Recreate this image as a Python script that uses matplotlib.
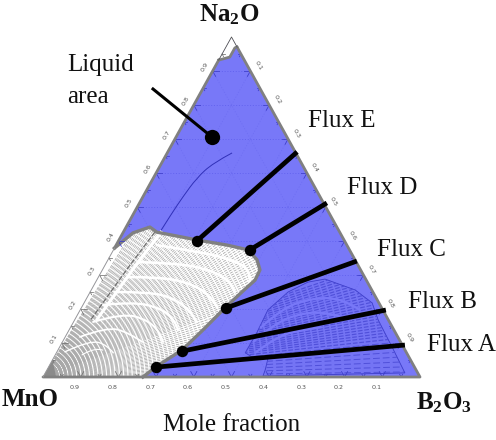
import matplotlib
matplotlib.use("Agg")
import matplotlib.pyplot as plt
import numpy as np
from matplotlib.patches import PathPatch, Polygon
from matplotlib.path import Path

plt.rcParams["font.family"] = ["Liberation Serif", "DejaVu Serif"]
plt.rcParams["mathtext.fontset"] = "custom"
plt.rcParams["mathtext.rm"] = "Liberation Serif"
plt.rcParams["mathtext.bf"] = "Liberation Serif:bold"

# all compositions are (B2O3, Na2O) mole fractions
tick_values = [0.1, 0.2, 0.3, 0.4, 0.5, 0.6, 0.7, 0.8, 0.9]
minor_values = [0.05, 0.15, 0.25, 0.35, 0.45, 0.55, 0.65, 0.75, 0.85, 0.95]

solid_region = [(0.0, 0.379), (0.027, 0.424), (0.063, 0.441), (0.089, 0.426),
                (0.207, 0.403), (0.294, 0.388), (0.357, 0.374), (0.395, 0.345),
                (0.418, 0.315), (0.420, 0.285), (0.405, 0.255), (0.382, 0.206),
                (0.355, 0.138), (0.329, 0.079), (0.286, 0.032), (0.265, 0.0)]
apex_region = [(0.0, 0.932), (0.025, 0.941), (0.025, 0.968), (0.029, 0.971)]
lobe_region = [(0.582, 0.003), (0.579, 0.021), (0.569, 0.056), (0.525, 0.059),
               (0.501, 0.071), (0.502, 0.132), (0.498, 0.197), (0.525, 0.25),
               (0.563, 0.279), (0.604, 0.288), (0.700, 0.256), (0.764, 0.218),
               (0.805, 0.168), (0.882, 0.088), (0.954, 0.012)]
thin_curve = [(0.172, 0.659), (0.136, 0.629), (0.115, 0.585), (0.106, 0.529),
              (0.101, 0.482), (0.097, 0.426)]

white_arcs = [
    [(0.108, 0.388), (0.232, 0.368), (0.332, 0.344), (0.392, 0.315), (0.409, 0.279)],
    [(0.083, 0.338), (0.187, 0.335), (0.286, 0.315), (0.361, 0.279), (0.384, 0.25)],
    [(0.076, 0.294), (0.163, 0.294), (0.252, 0.276), (0.322, 0.241), (0.359, 0.206)],
    [(0.066, 0.25), (0.159, 0.25), (0.229, 0.232), (0.291, 0.197), (0.327, 0.162)],
    [(0.053, 0.212), (0.129, 0.221), (0.209, 0.203), (0.266, 0.168), (0.289, 0.138)],
    [(0.052, 0.162), (0.118, 0.188), (0.192, 0.168), (0.244, 0.132), (0.267, 0.103)],
    [(0.039, 0.118), (0.096, 0.147), (0.159, 0.132), (0.212, 0.103)],
    [(0.021, 0.074), (0.071, 0.109), (0.123, 0.094), (0.151, 0.071)],
    [(0.071, 0.065), (0.094, 0.088), (0.119, 0.079)],
]
arc_widths = [1.9, 1.9, 1.9, 1.8, 1.7, 1.5, 1.3, 1.0, 0.8]
ridge_line = [(0.089, 0.426), (0.070, 0.32), (0.048, 0.17)]
lobe_arcs = [
    [(0.504, 0.144), (0.533, 0.203), (0.598, 0.232), (0.677, 0.232), (0.742, 0.197)],
    [(0.506, 0.103), (0.536, 0.159), (0.593, 0.188), (0.660, 0.191), (0.736, 0.168)],
    [(0.527, 0.071), (0.558, 0.115), (0.607, 0.138), (0.666, 0.147)],
]

solid_ray_angles = [0.8, 1.6, 2.4, 3.2, 4.0, 4.8, 5.6, 6.4, 7.2, 8.0, 8.8, 9.6, 10.4,
                    11.2, 12.0, 12.8, 13.6, 14.4, 15.2, 16.0, 16.8, 17.6, 18.4, 19.2,
                    20.0, 20.6, 21.2, 21.8, 22.4, 23.0, 23.6, 24.2, 24.8, 25.4, 26.0,
                    26.6, 27.2, 27.8, 28.4, 29.0, 29.6, 30.2, 30.8, 31.4, 32.0, 32.6,
                    33.2, 33.8, 34.4, 35.0, 35.6, 36.2, 36.8, 37.4, 38.0, 38.6, 39.2,
                    39.8, 40.4, 41.0, 41.6, 42.2, 42.8, 43.4, 44.0, 44.6, 45.2, 45.8,
                    46.4, 47.0, 47.6, 48.2, 48.8, 49.4, 50.0, 50.6, 51.2, 51.8, 52.4,
                    53.0, 53.6, 54.2, 54.8, 55.4, 56.0, 56.6, 57.2, 57.8, 58.4]
# tie lines of the lobe also run back to the MnO corner
lobe_ray_angles = [0.8, 1.6, 2.4, 3.2, 4.0, 4.8, 5.6, 6.2, 6.8, 7.3, 7.8, 8.3, 8.8, 9.3,
                   9.8, 10.3, 10.8, 11.3, 11.8, 12.3, 12.8, 13.3, 13.8, 14.3, 14.8,
                   15.3, 15.8, 16.3, 16.8, 17.3, 17.8, 18.3, 18.8]

flux_names = ["Flux A", "Flux B", "Flux C", "Flux D", "Flux E"]
flux_start = [(0.285, 0.029), (0.331, 0.076), (0.384, 0.203), (0.362, 0.374), (0.208, 0.40)]
flux_end = [(0.913, 0.094), (0.811, 0.197), (0.662, 0.341), (0.497, 0.512), (0.343, 0.662)]
flux_label_x = [427, 408, 377, 347, 308]
flux_label_y = [345, 302, 250, 188, 121]

liquid_point = (0.095, 0.706)

LEFT, RIGHT, BASE, TOP = 43.0, 420.0, 377.0, 37.0
BLUE = "#7878f8"
DARK = "#3c3cc8"
GRAY = "#808080"


def tern(b, n):
    b, n = np.asarray(b, float), np.asarray(n, float)
    return LEFT + (RIGHT - LEFT) * (b + n / 2), BASE - (BASE - TOP) * n


def pts(seq):
    b, n = zip(*seq)
    x, y = tern(b, n)
    return np.column_stack([x, y])


def smooth(seq):
    # quadratic spline through the midpoints, arcs look angular otherwise
    p = pts(seq)
    verts = [p[0]]
    codes = [Path.MOVETO]
    for i in range(1, len(p) - 1):
        end = p[i + 1] if i == len(p) - 2 else (p[i] + p[i + 1]) / 2
        verts += [p[i], end]
        codes += [Path.CURVE3, Path.CURVE3]
    return Path(verts, codes)


fig = plt.figure(figsize=(4.96, 4.40), dpi=100)
ax = fig.add_axes([0, 0, 1, 1])
ax.set_xlim(0, 496)
ax.set_ylim(440, 0)
ax.axis("off")

triangle = pts([(0, 0), (1, 0), (0, 1)])
ax.add_patch(Polygon(triangle, closed=True, fc=BLUE, ec="none", zorder=1))

# grid, three directions
for v in tick_values:
    for a, c in [((0, v), (1 - v, v)), ((v, 0), (v, 1 - v)), ((v, 0), (0, v))]:
        x, y = tern([a[0], c[0]], [a[1], c[1]])
        col = "#5c5cec" if a[1] == c[1] else "#6c6cf2"
        ax.plot(x, y, color=col, lw=0.5, ls=(0, (1.5, 2.5)), zorder=2)

# liquid-free lobe near B2O3
lobe_poly = Polygon(pts(lobe_region), closed=True, fc="#7474f4", ec=DARK, lw=0.6, zorder=3)
ax.add_patch(lobe_poly)
for ang in lobe_ray_angles:
    t = np.radians(ang)
    dash = (0, (4, 1.5)) if ang > 6 else (0, (7, 3))
    wid = 0.85 if ang > 6 else 0.7
    ln, = ax.plot([LEFT, LEFT + 400 * np.cos(t)], [BASE, BASE - 400 * np.sin(t)],
                  color="#5050da", lw=wid, ls=dash, zorder=3.1)
    ln.set_clip_path(lobe_poly)
for arc in lobe_arcs:
    pa = PathPatch(smooth(arc), fc="none", ec=BLUE, lw=1.6, zorder=3.2)
    ax.add_patch(pa)
    pa.set_clip_path(lobe_poly)

# solid region near MnO
outline = pts(solid_region)
solid_poly = Polygon(np.vstack([outline, [[LEFT, BASE]]]), closed=True, fc="white", ec="none", zorder=4)
ax.add_patch(solid_poly)
for ang in solid_ray_angles:
    t = np.radians(ang)
    ln, = ax.plot([LEFT, LEFT + 260 * np.cos(t)], [BASE, BASE - 260 * np.sin(t)],
                  color="#a8a8a8", lw=0.55, ls=(0, (4, 1.6)), zorder=4.1)
    ln.set_clip_path(solid_poly)
for arc, wid in zip(white_arcs, arc_widths):
    pa = PathPatch(smooth(arc), fc="none", ec="white", lw=wid, capstyle="round", zorder=4.2)
    ax.add_patch(pa)
    pa.set_clip_path(solid_poly)
rx, ry = pts(ridge_line).T
ax.plot(rx + 4, ry, color="white", lw=2.2, zorder=4.3)
ax.plot(rx - 2, ry, color="#6e6e6e", lw=0.9, ls=(0, (4, 1.5)), zorder=4.3)
ax.plot(outline[:, 0], outline[:, 1], color=GRAY, lw=2.4, solid_joinstyle="round", zorder=4.4)

# corner where the tie lines run together
cx, cy = tern([0, 0.035, 0.0], [0, 0, 0.05])
ax.add_patch(Polygon(np.column_stack([cx, cy]), closed=True, fc="#8a8a8a", ec="none", zorder=4.5))

# white apex
apex = pts(apex_region)
ax.add_patch(Polygon(np.vstack([apex, [[(LEFT + RIGHT) / 2, TOP]]]), closed=True, fc="white", ec="none", zorder=4))
ax.plot(apex[:, 0], apex[:, 1], color=GRAY, lw=2.0, zorder=4.4)

ax.add_patch(PathPatch(smooth(thin_curve), fc="none", ec="#3030b8", lw=0.7, zorder=3))

# edge ticks
for v in tick_values + minor_values:
    size = 0.016 if v in tick_values else 0.008
    col_l = "#707070" if v < 0.38 or v > 0.93 else DARK
    col_b = "#707070" if v < 0.265 else DARK
    col_r = "#303030" if v > 0.97 else DARK
    for base, d, col in [((0, v), (size, 0), col_l), ((0, v), (size, -size), col_l),
                         ((v, 0), (0, size), col_b), ((v, 0), (-size, size), col_b),
                         ((1 - v, v), (-size, 0), col_r), ((1 - v, v), (0, -size), col_r)]:
        x, y = tern([base[0], base[0] + d[0]], [base[1], base[1] + d[1]])
        ax.plot(x, y, color=col, lw=0.55, zorder=4.6)

# frame: thin past the solid region and around the apex
ex, ey = tern([0, 1, 0.03], [0, 0, 0.97])
ax.plot(ex, ey, color=GRAY, lw=2.0, solid_capstyle="round", zorder=5)
ex, ey = tern([0, 0], [0.379, 0.932])
ax.plot(ex, ey, color=GRAY, lw=2.0, zorder=5)
ex, ey = tern([0, 0], [0, 0.379])
ax.plot(ex, ey, color="#9a9a9a", lw=0.7, zorder=5)
ex, ey = tern([0, 0, 0.03], [0.932, 1, 0.97])
ax.plot(ex, ey, color="#555555", lw=0.6, zorder=5)

# scale labels
for v in tick_values:
    lx, ly = tern(1 - v, -0.03)
    ax.text(lx, ly, f"{v:.1f}", fontsize=4.6, color="#555555", family="DejaVu Sans",
            ha="center", va="center", zorder=6)
    lx, ly = tern(0, v)
    ax.text(lx - 8, ly - 4, f"{v:.1f}", fontsize=4.6, color="#555555", family="DejaVu Sans",
            rotation=60, ha="center", va="center", zorder=6)
    lx, ly = tern(1 - v, v)
    ax.text(lx + 8, ly - 5, f"{1 - v:.1f}", fontsize=4.6, color="#555555", family="DejaVu Sans",
            rotation=-60, ha="center", va="center", zorder=6)

# fluxes
for name, s, e, lx, ly in zip(flux_names, flux_start, flux_end, flux_label_x, flux_label_y):
    x, y = tern([s[0], e[0]], [s[1], e[1]])
    ax.plot(x, y, color="black", lw=3.4, solid_capstyle="butt", zorder=7)
    ax.plot(x[0], y[0], "o", color="black", ms=8.2, mew=0, zorder=8)
    ax.text(lx, ly, name, fontsize=18, color="#111111", ha="left", va="center", zorder=9)

px, py = tern(*liquid_point)
ax.plot([153, px], [89, py], color="black", lw=2.2, zorder=7)
ax.plot(px, py, "o", color="black", ms=11, mew=0, zorder=8)
ax.text(67, 65, "Liquid", fontsize=18, color="#111111", ha="left", va="center")
ax.text(67, 97, "area", fontsize=18, color="#111111", ha="left", va="center")

ax.text(229, 15, r"$\mathbf{Na_2O}$", fontsize=18, color="#111111", ha="center", va="center")
ax.text(2, 400, "MnO", fontsize=18, fontweight="bold", color="#111111", ha="left", va="center")
ax.text(416, 403, r"$\mathbf{B_2O_3}$", fontsize=18, color="#111111", ha="left", va="center")
ax.text(232, 425, "Mole fraction", fontsize=18, color="#111111", ha="center", va="center")

fig.savefig("out.png", dpi=100)
